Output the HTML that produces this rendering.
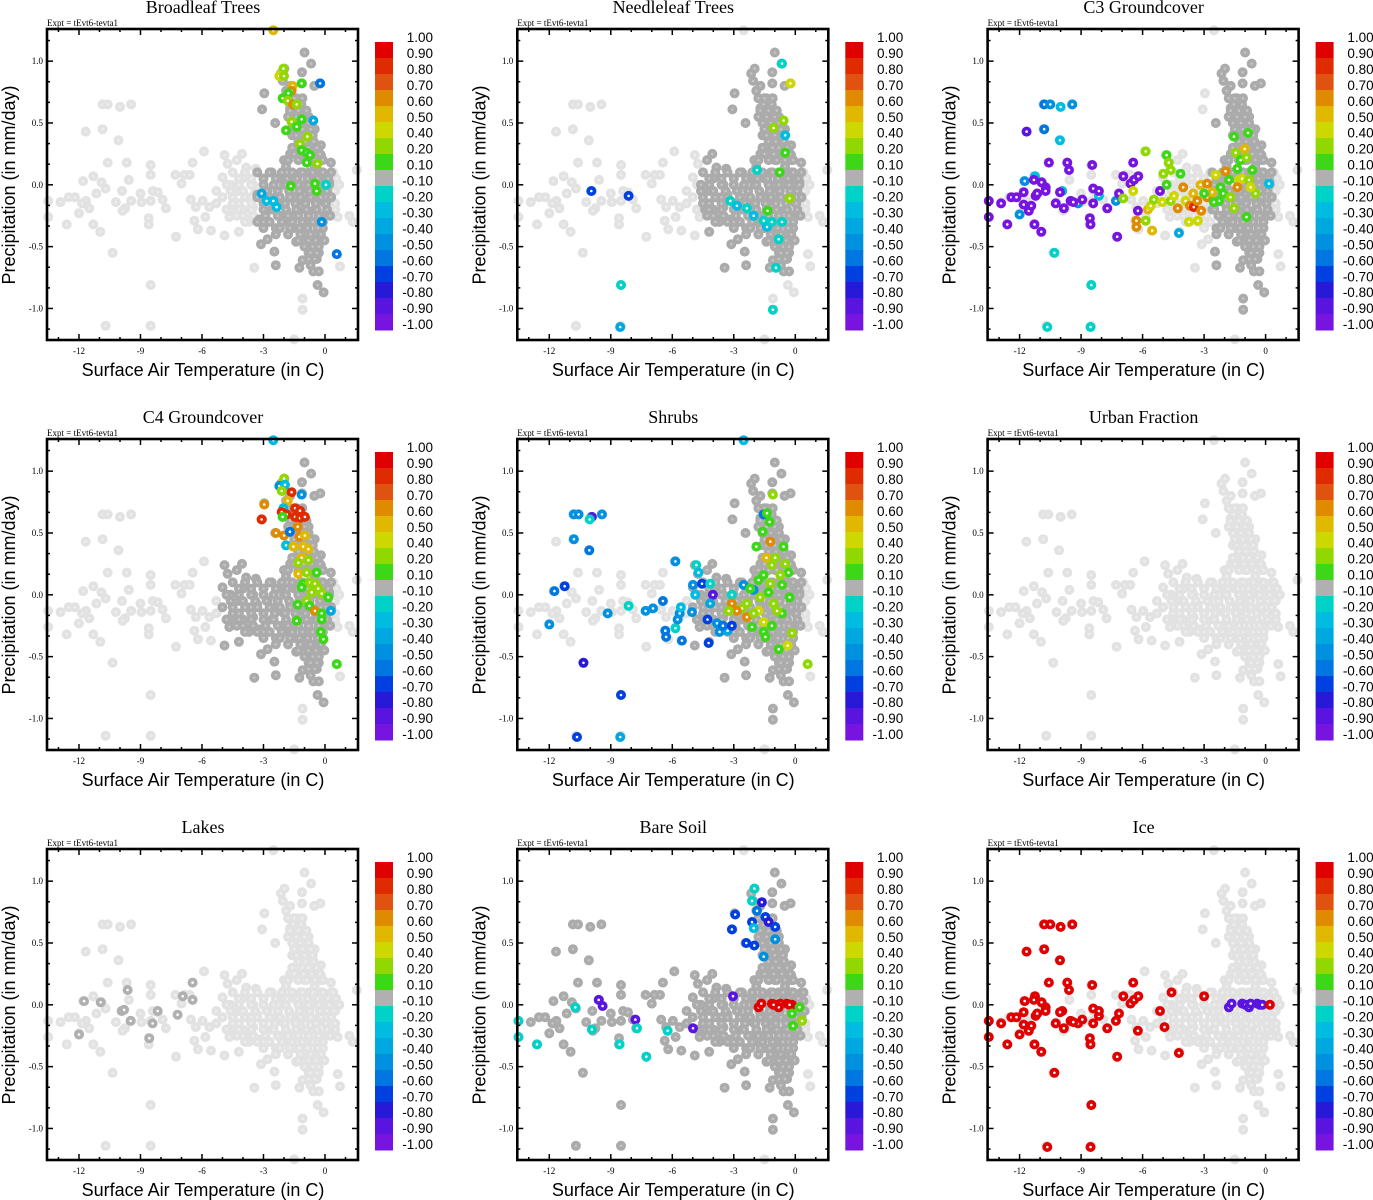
<!DOCTYPE html>
<html><head><meta charset="utf-8"><style>
html,body{margin:0;padding:0;background:#fff;}
svg{display:block;}
.serif{font-family:"Liberation Serif",serif;}
.sans{font-family:"Liberation Sans",sans-serif;}
</style></head><body>
<svg id="chart" width="1373" height="1200" xmlns="http://www.w3.org/2000/svg"></svg>
<script>
// ---- data ----
const panelTitles = ["Broadleaf Trees","Needleleaf Trees","C3 Groundcover","C4 Groundcover","Shrubs","Urban Fraction","Lakes","Bare Soil","Ice"];
const xTicks = [-12,-9,-6,-3,0];
const yTicks = [-1.0,-0.5,0.0,0.5,1.0];
const yTickLabels = ["-1.0","-0.5","0.0","0.5","1.0"];
const cbLabels = ["1.00","0.90","0.80","0.70","0.60","0.50","0.40","0.20","0.10","-0.10","-0.20","-0.30","-0.40","-0.50","-0.60","-0.70","-0.80","-0.90","-1.00"];
const cbColors = ["#e00000","#e02a00","#e05210","#e08a00","#e0b800","#ccd800","#90d800","#3cd818","#b0b0b0","#00d2c8","#00bce0","#00a8e0","#0090e0","#0076e0","#0040e0","#2818d8","#5a14e0","#7814e0"];
const cbLower = [0.9,0.8,0.7,0.6,0.5,0.4,0.2,0.1,-0.1,-0.2,-0.3,-0.4,-0.5,-0.6,-0.7,-0.8,-0.9,-1.0,-9];

// all grid points (temperature, precipitation)
const baseT = [-10.85,-10.6,-10.0,-9.46,-11.67,-10.85,-10.07,-10.6,-9.67,-8.5,-8.5,-11.8,-11.3,-10.9,-10.7,-11.15,-11.66,-12.5,-12.2,-12.9,-13.5,-13.5,-12.6,-12.0,-11.85,-11.5,-11.3,-10.96,-10.36,-10.7,-8.5,-8.5,-8.6,-8.6,-10.2,-9.9,-9.75,-9.87,-9.57,-9.46,-9.0,-8.95,-8.5,-8.4,-8.16,-7.92,-7.76,-7.3,-7.27,-7.0,-6.86,-6.6,-6.54,-6.46,-6.3,-6.37,-6.2,-5.9,-5.97,-5.84,-5.56,-5.64,-5.3,-5.0,-4.9,-4.9,-4.75,-4.67,-4.3,-4.05,-4.2,-3.85,-3.77,-3.37,-3.07,-2.96,-3.12,-3.45,-2.8,-2.47,-2.4,-2.43,-2.15,-1.98,-2.06,-1.9,-1.5,-2.52,-1.0,-0.68,-1.12,-1.12,-0.52,-0.23,-1.41,-1.09,-1.25,-1.09,-1.09,-1.09,-0.57,-0.36,-0.07,-0.03,0.62,0.73,0.62,1.19,1.35,1.55,0.29,-0.2,-0.2,
-5,-4.8,-4.6,-4.5,-4.3,-4.2,-4,-4,-3.8,-3.7,-3.5,-3.5,-3.3,-3.2,-3,-3,-2.8,-2.8,-2.6,-2.6,-2.4,-2.4,-2.3,-2.2,
-2,-2,-2,-1.9,-1.8,-1.7,-1.7,-1.6,-1.5,-1.5,-1.4,-1.4,-1.3,-1.2,-1.2,-1.1,-1,-1,-1,-0.9,-0.8,-0.8,-0.7,-0.7,-0.6,-0.6,-0.5,-0.5,-0.4,-0.4,-0.3,-0.3,-0.2,-0.2,-0.1,-0.1,0,0,0.1,0.2,0.3,0.4,0.5,0.6,
-1.6,-1.5,-1.3,-1.2,-1.4,-1.1,-0.9,-0.8,-1.0,-0.7,-1.3,-0.6,-1.8,-1.7,-0.5,
-0.8,-0.6,-0.5,-0.4,-0.7,-0.3,-0.9,-1.5,-1.9,-2.2,-3.0,-3.6,-4.4,-5.3,-0.2,0.3,0.5,-1.0,-0.5,-2.0,
-4.5,-3.9,-3.3,-2.7,-2.1,-1.6,-1.1,-0.6,-0.1,0.4,
-4.8,-4.2,-3.6,-3.0,-2.5,-1.9,-1.3,-0.8,-0.3,0.2,0.7,
-4.5,-3.9,-3.3,-2.7,-2.2,-1.7,-1.2,-0.7,-0.2,0.3,
-4.8,-4.2,-3.6,-3.0,-2.5,-1.9,-1.4,-0.9,-0.4,0.1,
-3.9,-3.3,-2.7,-2.1,-1.6,-1.1,-0.6,-0.1,
-2.4,-1.8,-1.2,-0.7,-0.2,
-1.8,-1.3,-0.9,-0.5,-0.1,
-1.6,-1.1,-0.8,-0.4,
-1.4,-1.0,-0.6,
-1.6,-1.2,-0.8,
-1.7,-1.3,-0.9,
-1.8,-1.5,-1.1,
-1.7,
-1.0,-0.6,-0.3,
-0.8,-0.5,
-4.2,-3.6,-3.0,-2.4,-1.85,-1.35,-0.85,-0.35,0.15,0.55,
-4.6,-4.0,-3.4,-2.85,-2.3,-1.75,-1.25,-0.75,-0.25,0.45,
-4.2,-3.6,-3.0,-2.45,-1.95,-1.45,-0.95,-0.45,0.05,0.5,
-4.0,-3.5,-2.9,-2.3,-1.8,-1.3,-0.8,-0.3,0.25,
-3.0,-2.2,-1.7,-1.25,-0.85,-0.35,
-1.5,-1.05,-0.65,-0.25,
-1.3,-0.95,-0.55,
-1.5,-1.1,-0.7,
-1.4,-1.0,
-1.55,-1.15,
-0.8,-0.45,
-0.7,-0.4];
const baseP = [0.65,0.65,0.63,0.65,0.43,0.45,0.36,0.18,0.18,0.16,0.08,0.03,0.07,0.02,-0.03,-0.07,-0.13,-0.1,-0.1,-0.14,-0.13,-0.26,-0.32,-0.23,-0.15,-0.19,-0.32,-0.38,-0.55,-1.14,-1.14,-0.81,-0.27,-0.32,-0.14,-0.05,-0.19,-0.21,0.04,-0.13,-0.07,-0.14,-0.13,-0.05,-0.06,-0.12,-0.19,0.08,-0.42,0.01,0.08,0.08,-0.12,0.18,-0.18,-0.29,-0.36,0.27,-0.13,-0.26,-0.37,-0.18,-0.05,0.06,0.24,-0.41,0.17,-0.26,0.2,0.25,-0.38,0.14,-0.23,0.13,0.61,0.74,-0.48,-0.67,-0.44,-0.54,-0.65,0.5,0.9,0.94,0.84,0.76,-1.25,1.25,1.07,0.98,0.91,0.82,0.8,0.82,-0.46,-0.46,-0.67,-0.61,-0.92,-1.01,-0.7,-0.81,-0.87,-0.45,-0.56,-0.66,-0.26,-0.25,-0.3,0.12,0.18,0.32,0.24,
-0.1,-0.2,0,-0.15,-0.25,-0.05,0.05,-0.2,-0.1,-0.3,0,-0.18,-0.08,-0.28,0.05,-0.15,-0.3,-0.05,0.1,-0.2,-0.35,-0.1,0.05,-0.25,
0,-0.15,-0.3,0.15,-0.4,-0.08,0.25,-0.25,0.05,-0.35,0.3,-0.15,-0.45,0.1,-0.05,-0.3,0.2,0,-0.2,-0.4,0.1,-0.1,0.3,-0.3,0,-0.5,0.15,-0.2,-0.4,0.05,-0.1,-0.55,0.1,-0.25,0,-0.35,0.05,-0.15,-0.05,0.02,-0.1,0.03,-0.05,0,
0.4,0.55,0.5,0.65,0.7,0.45,0.4,0.55,0.6,0.45,0.38,0.3,0.55,0.62,0.45,
-0.55,-0.6,-0.45,-0.6,-0.65,-0.7,-0.3,-0.1,0.05,-0.12,-0.3,-0.1,-0.2,-0.15,0.2,0.1,-0.2,0.35,0.25,0.2,
0.1,0.1,0.1,0.1,0.1,0.1,0.1,0.1,0.1,0.1,
0,0,0,0,0,0,0,0,0,0,0,
-0.1,-0.1,-0.1,-0.1,-0.1,-0.1,-0.1,-0.1,-0.1,-0.1,
-0.2,-0.2,-0.2,-0.2,-0.2,-0.2,-0.2,-0.2,-0.2,-0.2,
-0.3,-0.3,-0.3,-0.3,-0.3,-0.3,-0.3,-0.3,
-0.4,-0.4,-0.4,-0.4,-0.4,
0.2,0.2,0.2,0.2,0.2,
0.3,0.3,0.3,0.3,
0.4,0.4,0.4,
0.5,0.5,0.5,
0.6,0.6,0.6,
0.7,0.7,0.7,
0.8,
-0.5,-0.5,-0.5,
-0.6,-0.6,
0.05,0.05,0.05,0.05,0.05,0.05,0.05,0.05,0.05,0.05,
-0.05,-0.05,-0.05,-0.05,-0.05,-0.05,-0.05,-0.05,-0.05,-0.05,
-0.15,-0.15,-0.15,-0.15,-0.15,-0.15,-0.15,-0.15,-0.15,-0.15,
-0.25,-0.25,-0.25,-0.25,-0.25,-0.25,-0.25,-0.25,-0.25,
-0.35,-0.35,-0.35,-0.35,-0.35,-0.35,
0.25,0.25,0.25,0.25,
0.35,0.35,0.35,
0.45,0.45,0.45,
0.55,0.55,
0.65,0.65,
-0.45,-0.45,
-0.55,-0.55];

// dark-gray region per panel: [tMin, tMax, pMin, pMax] (null = none)
const darkBox = [[-3.3,0.3,-0.9,1.1],[-4.6,0.3,-0.75,1.1],[-2.6,0.3,-1.05,1.1],[-5.0,0.3,-0.9,1.1],[-5.2,0.3,-1.05,1.1],null,null,[-13.0,0.45,-1.2,1.1],null];

// colored points per panel: temperature, precipitation, correlation value
const p1T=[-2.52,-2.03,-2.23,-2.0,-1.58,-1.63,-1.79,-2.07,-1.82,-1.55,-1.38,-1.14,-0.24,-0.57,-1.63,-1.14,-1.38,-1.9,-0.86,-1.22,-1.14,-0.89,-0.73,-0.89,-0.37,-1.67,-0.49,-0.41,0.05,-3.09,-2.85,-2.52,-2.36,0.57,-0.16];
const p1P=[1.25,0.94,0.88,0.88,0.8,0.76,0.74,0.7,0.68,0.65,0.65,0.82,0.82,0.52,0.51,0.53,0.47,0.44,0.39,0.33,0.28,0.26,0.24,0.18,0.17,-0.01,0.01,-0.05,0,-0.07,-0.13,-0.13,-0.18,-0.56,-0.3];
const p1V=[0.5,0.2,0.4,0.3,0.5,0.6,0.1,0.1,0.2,0.6,0.2,0.1,-0.6,-0.4,0.2,0.1,0.1,0.1,0.2,0.3,0.1,0.1,0.1,0.1,0.3,0.1,0.1,0.1,-0.2,-0.4,-0.3,-0.3,-0.3,-0.6,-0.5];

const p2T=[-9.95,-8.13,-8.5,-8.54,-0.65,-0.24,-0.57,-1.06,-0.49,-0.49,-0.76,-0.28,-1.35,-0.81,-0.94,-1.09,-3.17,-2.85,-2.36,-2.03,-1.54,-1.38,-1.14,-1.87,-0.65];
const p2P=[-0.05,-0.09,-0.81,-1.15,0.98,0.82,0.52,0.46,0.4,0.26,0.1,-0.11,-0.21,-0.44,-0.67,-1.01,-0.13,-0.17,-0.19,-0.25,-0.29,-0.34,-0.3,0.12,-0.3];
const p2V=[-0.7,-0.7,-0.2,-0.4,-0.2,0.4,0.2,0.2,-0.3,0.1,0.1,0.2,0.1,-0.2,-0.2,-0.2,-0.2,-0.3,-0.2,-0.3,-0.2,-0.3,-0.2,-0.2,-0.2];

const p3T=[-10.8,-10.5,-10.0,-9.43,-10.8,-10.03,-10.3,-8.5,-10.65,-8.54,-11.75,-11.25,-12,-9.92,-9.15,-8.13,-7.3,-4.23,
-11.66,-13.5,-13.5,-12.9,-12.6,-12.4,-12.15,-11.8,-11.8,-11.55,-11.43,-11.3,-11.27,-11.22,-11.14,-10.94,-10.93,-10.73,-10.73,-10.57,-10.24,-10.03,-9.84,-9.67,-9.59,-9.51,-9.38,-8.94,-8.57,-8.54,-8.46,-8.41,-8.41,-8.13,-7.72,-7.24,-7.15,-6.94,-6.59,-6.46,-6.42,-6.21,-6.23,-5.15,
-5.85,-6.46,-6.94,-6.3,-6.3,-5.53,-5.74,-5.6,-5.85,-5.45,-4.99,-4.83,-4.72,-4.63,-4.15,-4.83,-5.04,-4.63,-4.47,-4.28,-4.02,-3.9,-3.69,-3.5,-3.53,-3.74,-3.3,-3.14,-3.33,-3.17,-2.85,-2.85,-2.6,-2.44,-2.28,-2.2,-1.95,-2.07,-1.79,-1.71,-1.54,-1.46,-1.22,-1.02,-1.38,-1.3,-1.14,-0.93,-0.86,-0.81,-0.65,-0.49,-0.93,-1.38,-1.54,-0.73,-3.0,-2.52,0.16];
const p3P=[0.65,0.65,0.63,0.65,0.45,0.36,-0.55,-0.81,-1.15,-1.15,0.03,0.07,-0.24,-0.05,-0.15,-0.09,-0.13,-0.39,
0.43,-0.13,-0.26,-0.15,-0.32,-0.1,-0.1,-0.06,-0.16,-0.21,-0.17,0.04,-0.32,-0.09,-0.07,-0.38,0.02,-0.02,-0.05,0.18,-0.15,-0.06,-0.19,0.18,0.12,-0.13,-0.14,-0.12,-0.27,-0.32,0.16,-0.03,-0.15,-0.05,-0.19,-0.42,-0.07,0.07,0.01,0.18,0.04,0.07,-0.21,-0.05,
0.27,-0.05,-0.11,-0.29,-0.34,-0.37,-0.2,-0.17,-0.29,-0.12,0.09,0.24,0.18,0.12,0.09,0,-0.14,-0.13,-0.09,-0.19,-0.02,-0.13,-0.17,-0.18,-0.07,-0.3,-0.29,-0.21,-0.13,0,0.01,-0.1,-0.06,0.08,-0.13,-0.02,0.11,-0.07,0.04,-0.1,0.39,0.26,0.2,0.29,0.13,0.04,0.05,0.22,0.42,0.04,0.12,-0.07,-0.26,-0.02,-0.19,-0.02,-0.07,-0.14,0.01];
const p3V=[-0.6,-0.5,-0.3,-0.5,-0.6,-0.3,-0.2,-0.2,-0.2,-0.2,-0.5,-0.3,-0.5,-0.3,-0.5,-0.3,-0.5,-0.4,
-0.9,-1,-1,-1,-1,-1,-1,-1,-1,-1,-1,-1,-1,-1,-1,-1,-1,-1,-1,-1,-1,-1,-1,-1,-1,-1,-1,-1,-1,-1,-1,-1,-1,-1,-1,-1,-1,-1,-1,-1,-1,-1,-1,-1,
0.2,0.4,0.2,0.6,0.6,0.5,0.5,0.4,0.2,0.3,0.2,0.1,0.2,0.2,0.1,0.1,0.4,0.3,0.4,0.6,0.6,0.4,0.6,0.8,0.5,0.4,0.4,0.6,0.6,0.5,0.6,0.6,0.5,0.4,0.1,0.1,0.6,0.1,0.1,0.2,0.1,0.2,0.1,0.5,0.1,0.4,0.4,0.2,0.1,0.3,0.1,0.2,0.1,0.6,0.2,0.4,0.1,0.1,-0.3];

const p4T=[-2.52,-2.0,-2.23,-1.95,-2.11,-1.63,-1.14,-2.96,-3.09,-1.82,-2.03,-1.87,-2.11,-2.07,-1.46,-1.22,-1.46,-1.22,-0.98,-1.33,-2.39,-2.0,-1.71,-1.25,-0.98,-1.9,-1.54,-1.06,-0.81,-1.14,-1.3,-0.81,-1.3,-0.89,-0.41,-1.06,-0.73,-0.49,-0.33,-0.65,-0.89,-1.14,-0.16,0.16,-1.33,-0.76,-0.49,-0.16,0.29,-1.38,-0.16,-0.21,-0.08,0.57];
const p4P=[1.25,0.94,0.88,0.89,0.84,0.83,0.81,0.73,0.61,0.76,0.7,0.65,0.67,0.63,0.7,0.68,0.63,0.62,0.63,0.55,0.5,0.48,0.51,0.47,0.48,0.4,0.39,0.39,0.37,0.3,0.26,0.28,0.17,0.18,0.18,0.09,0.1,0.09,0.05,0.02,-0.05,0.06,0.01,-0.02,-0.08,-0.09,-0.13,-0.15,-0.13,-0.21,-0.2,-0.3,-0.36,-0.56];
const p4V=[-0.3,0.2,-0.5,-0.3,0.3,0.8,-0.5,0.6,0.8,0.5,-0.3,0.8,0.8,0.1,0.8,0.8,0.8,0.8,0.8,0.6,0.6,0.6,-0.6,0.6,0.5,-0.3,0.5,0.5,0.5,0.5,0.3,0.2,0.5,0.3,0.1,0.1,0.2,0.2,0.3,0.3,0.3,0.1,0.3,0.1,0.1,0.1,0.6,0.1,-0.4,0.1,0.1,0.1,0.1,0.1];

const p5T=[-10.8,-10.57,-9.92,-10.03,-9.43,-10.8,-10.05,-11.25,-11.75,-12,-9.15,-8.13,-10.33,-8.5,-10.65,-8.54,-7.3,-6.94,-6.46,-5.85,-6.34,-6.3,-5.53,-5.85,-5.74,-5.64,-5.58,-5.04,-4.88,-4.99,-4.83,-4.72,-4.55,-4.15,-4.28,-4.23,-4.02,-4.15,-3.82,-3.69,-3.3,-3.53,-3.09,-3.09,-2.52,-2.03,-1.54,-2.52,
-1.09,-1.38,-1.25,-1.59,-1.22,-1.9,-1.41,-0.98,-0.57,-0.49,-0.33,-0.73,-1.14,-1.54,-1.79,-2.2,-1.22,-0.65,-0.28,-1.71,-1.3,-1.06,-2.36,-2.6,-3.09,-2.85,-2.36,-1.79,-2.03,-1.54,-2.11,-1.54,-1.46,-1.14,-0.65,-0.89,-0.16,-0.37,-0.81,0.6,-3.25];
const p5P=[0.65,0.65,0.63,0.61,0.65,0.45,0.36,0.07,0.03,-0.24,-0.15,-0.09,-0.55,-0.81,-1.15,-1.15,-0.13,-0.11,-0.05,0.27,-0.29,-0.34,-0.37,-0.27,-0.2,-0.15,-0.1,-0.14,0,0.08,0.24,0.18,0.09,0.09,-0.2,-0.39,0,-0.07,-0.23,-0.3,-0.29,-0.25,-0.25,0,0.08,0.04,0.65,1.25,
0.81,0.66,0.59,0.51,0.43,0.39,0.3,0.3,0.39,0.25,0.18,0.16,0.24,0.16,0.12,0.05,0.09,0.08,-0.02,-0.02,0.02,-0.07,-0.07,-0.11,-0.07,-0.13,-0.18,-0.13,-0.15,-0.22,-0.26,-0.3,-0.34,-0.25,-0.15,-0.13,-0.31,-0.41,-0.44,-0.56,-0.13];
const p5V=[-0.5,-0.5,-0.9,-0.2,-0.5,-0.5,-0.6,-0.7,-0.6,-0.5,-0.5,-0.2,-0.8,-0.7,-0.7,-0.4,-0.5,-0.5,-0.6,-0.5,-0.6,-0.6,-0.6,-0.2,-0.5,-0.5,-0.3,-0.5,-0.3,-0.5,-0.2,-0.3,-0.7,-0.2,-0.7,-0.7,-0.9,-0.4,-0.5,-0.5,-0.4,-0.6,-0.7,-0.2,-0.5,-0.5,-0.6,-0.3,
0.2,0.1,0.1,0.1,0.6,0.1,0.5,0.2,0.1,0.2,0.1,0.3,0.2,0.1,0.1,0.1,0.2,0.1,0.1,0.2,0.1,0.2,0.2,0.3,0.6,0.6,0.6,0.4,0.3,0.4,0.1,0.1,0.1,0.1,0.1,0.2,0.2,0.4,0.1,0.3,0.2];

const p6T=[]; const p6P=[]; const p6V=[];

const p7T=[-11.75,-10.94,-9.92,-9.8,-9.63,-9.48,-12,-8.57,-8.41,-8.16,-7.19,-6.94,-6.46,-6.46];
const p7P=[0.03,0.02,-0.05,-0.04,0.12,-0.13,-0.24,-0.27,-0.15,-0.05,-0.08,0.07,0.18,0.04];
const p7V=[0,0,0,0,0,0,0,0,0,0,0,0,0,0];

const p8T=[-13.5,-13.5,-12.6,-10.73,-9.92,-9.59,-9.4,-8.57,-7.8,-7.72,-7.27,-6.23,-4.99,-3.04,-2.93,-3.09,-2.39,-2.0,-2.11,-1.87,-1.63,-2.0,-2.11,-2.03,-1.46,-1.3,-0.98,-0.98,-1.54,
-1.79,-1.66,-1.14,-0.98,-0.73,-0.41,-0.16,-0.81,-1.06,-0.28,0.21,-0.16,-0.11,0.33];
const p8P=[-0.13,-0.26,-0.32,-0.02,-0.2,0.04,-0.01,-0.32,-0.12,-0.19,-0.42,-0.21,-0.19,0.07,0.73,0.61,0.5,0.48,0.67,0.76,0.83,0.94,0.84,0.62,0.71,0.67,0.63,0.53,0.39,
-0.02,0.01,0.01,0,0.01,0.01,0,-0.02,0,0,-0.02,-0.07,-0.17,-0.13];
const p8V=[-0.2,-0.2,-0.2,-0.2,-0.2,-0.9,-0.9,-0.2,-0.9,-0.2,-0.2,-0.2,-0.9,-0.9,-0.7,-0.7,-0.7,-0.7,-0.7,-0.6,-0.8,-0.2,-0.2,-0.3,-0.7,-0.8,-0.7,-0.5,-0.5,
1,1,1,1,1,1,1,1,1,1,0.1,0.1,0.1,0.2];

const p9T=[-10.8,-10.5,-10.0,-9.43,-10.8,-10.03,-10.3,-8.5,-10.65,-8.54,-11.75,-11.25,-12,-9.92,-9.15,-8.13,-7.3,-4.23,
-11.66,-13.5,-13.5,-12.9,-12.6,-12.4,-12.15,-11.8,-11.8,-11.55,-11.43,-11.3,-11.27,-11.22,-11.14,-10.94,-10.93,-10.73,-10.73,-10.57,-10.24,-10.03,-9.84,-9.67,-9.59,-9.51,-9.38,-8.94,-8.57,-8.54,-8.46,-8.41,-8.41,-8.13,-7.72,-7.24,-7.15,-6.94,-6.59,-6.46,-6.42,-6.21,-6.23,-5.15,-4.59,-4.93,-3.0,
-1.79,-1.66,-1.14,-0.98,-0.81,-0.73,-0.41,-0.28,-0.16,0.21];
const p9P=[0.65,0.65,0.63,0.65,0.45,0.36,-0.55,-0.81,-1.15,-1.15,0.03,0.07,-0.24,-0.05,-0.15,-0.09,-0.13,-0.39,
0.43,-0.13,-0.26,-0.15,-0.32,-0.1,-0.1,-0.06,-0.16,-0.21,-0.17,0.04,-0.32,-0.09,-0.07,-0.38,0.02,-0.02,-0.05,0.18,-0.15,-0.06,-0.19,0.18,0.12,-0.13,-0.14,-0.12,-0.27,-0.32,0.16,-0.03,-0.15,-0.05,-0.19,-0.42,-0.07,0.07,0.01,0.18,0.04,0.07,-0.21,-0.05,0.1,-0.18,0.07,
-0.02,0.01,0.01,0,-0.02,0.01,0.01,0,0,0];
const p9V=[1,1,1,1,1,1,1,1,1,1,1,1,1,1,1,1,1,1,
1,1,1,1,1,1,1,1,1,1,1,1,1,1,1,1,1,1,1,1,1,1,1,1,1,1,1,1,1,1,1,1,1,1,1,1,1,1,1,1,1,1,1,1,1,1,1,
-0.9,-0.9,-0.9,-0.9,-0.9,-0.9,-0.9,-0.9,-0.9,1];

const panelT=[p1T,p2T,p3T,p4T,p5T,p6T,p7T,p8T,p9T];
const panelP=[p1P,p2P,p3P,p4P,p5P,p6P,p7P,p8P,p9P];
const panelV=[p1V,p2V,p3V,p4V,p5V,p6V,p7V,p8V,p9V];

// ---- drawing ----
const NS="http://www.w3.org/2000/svg";
const svg=document.getElementById('chart');
function mk(tag,attrs,parent){const e=document.createElementNS(NS,tag);for(const k in attrs)e.setAttribute(k,attrs[k]);(parent||svg).appendChild(e);return e;}
function colorFor(v){for(let i=0;i<18;i++){if(v>=cbLower[i]-1e-9)return cbColors[i];}return cbColors[17];}
const T0=-13.56, T1=1.61, P0=-1.255, P1=1.26, W=311, H=311;

for(let k=0;k<9;k++){
  const r=Math.floor(k/3), c=k%3;
  const ox=47+470.3*c, oy=29+410*r;
  const xs=t=>ox+(t-T0)/(T1-T0)*W;
  const ys=p=>oy+(P1-p)/(P1-P0)*H;
  const g=mk('g',{});
  
  

  const title=mk('text',{x:ox+156,y:oy-16,'text-anchor':'middle','font-size':'18',class:'serif'},g);
  title.textContent=panelTitles[k];
  
  
  const ex=mk('text',{x:ox,y:oy-3,'font-size':'9',class:'serif'},g);
  ex.textContent='Expt = tEvt6-tevta1';
  
  

  const pts=mk('g',{},g);
  
  
  const box=darkBox[k];
  const isDark=(t,p)=>box&&t>=box[0]&&t<=box[1]&&p>=box[2]&&p<=box[3];
  const drawPt=(t,p,col,inner)=>{
    const cx=xs(t), cy=ys(p);
    const m=mk('circle',{cx:cx.toFixed(1),cy:cy.toFixed(1),r:5.0,fill:col},pts);
    
    
    mk('circle',{cx:cx.toFixed(1),cy:cy.toFixed(1),r:1.3,fill:inner},pts);
  };
  for(let i=0;i<baseT.length;i++){ if(!isDark(baseT[i],baseP[i])) drawPt(baseT[i],baseP[i],'#e2e2e2','#eeeeee'); }
  for(let i=0;i<baseT.length;i++){ if(isDark(baseT[i],baseP[i])) drawPt(baseT[i],baseP[i],'#ababab','#c4c4c4'); }
  const TT=panelT[k],PP=panelP[k],VV=panelV[k];
  for(let i=0;i<TT.length;i++){ drawPt(TT[i],PP[i],colorFor(VV[i]),'#ffffff'); }

  const fr=mk('rect',{x:ox,y:oy,width:W,height:H,fill:'none',stroke:'#000','stroke-width':2.6},g);
  
  
  for(let t=-13;t<=1;t++){
    const x=xs(t); const major=(t%3===0);
    const L=major?6:3;
    mk('line',{x1:x,y1:oy+H,x2:x,y2:oy+H-L,stroke:'#000','stroke-width':1.5},g);
    mk('line',{x1:x,y1:oy,x2:x,y2:oy+L,stroke:'#000','stroke-width':1.5},g);
  }
  xTicks.forEach(t=>{
    const tl=mk('text',{x:xs(t),y:oy+H+14,'text-anchor':'middle','font-size':'9',class:'serif'},g);
    tl.textContent=String(t);
    
    
  });
  for(let j=-7;j<=7;j++){
    const p=j/6; const y=ys(p); const major=(j%3===0);
    const L=major?6:3;
    mk('line',{x1:ox,y1:y,x2:ox+L,y2:y,stroke:'#000','stroke-width':1.5},g);
    mk('line',{x1:ox+W,y1:y,x2:ox+W-L,y2:y,stroke:'#000','stroke-width':1.5},g);
  }
  yTicks.forEach((p,i)=>{
    const tl=mk('text',{x:ox-4,y:ys(p)+3,'text-anchor':'end','font-size':'9',class:'serif'},g);
    tl.textContent=yTickLabels[i];
    
    
  });
  const xt=mk('text',{x:ox+156,y:oy+H+36,'text-anchor':'middle','font-size':'18',class:'sans'},g);
  xt.textContent='Surface Air Temperature (in C)';
  
  
  const yt=mk('text',{x:0,y:0,'text-anchor':'middle','font-size':'18',class:'sans',transform:`translate(${ox-32},${oy+156}) rotate(-90)`},g);
  yt.textContent='Precipitation (in mm/day)';
  
  

  const cb=mk('g',{},g);
  
  
  const cbx=ox+328, cby=oy+13, bh=16;
  cbColors.forEach((col,i)=>{
    const rc=mk('rect',{x:cbx,y:cby+i*bh,width:18,height:bh+0.5,fill:col},cb);
    
    
  });
  cbLabels.forEach((lab,i)=>{
    const tl=mk('text',{x:ox+386,y:oy+13+i*15.95,'text-anchor':'end','font-size':'13.5',class:'sans'},cb);
    tl.textContent=lab;
    
    
  });
}
</script>
</body></html>
